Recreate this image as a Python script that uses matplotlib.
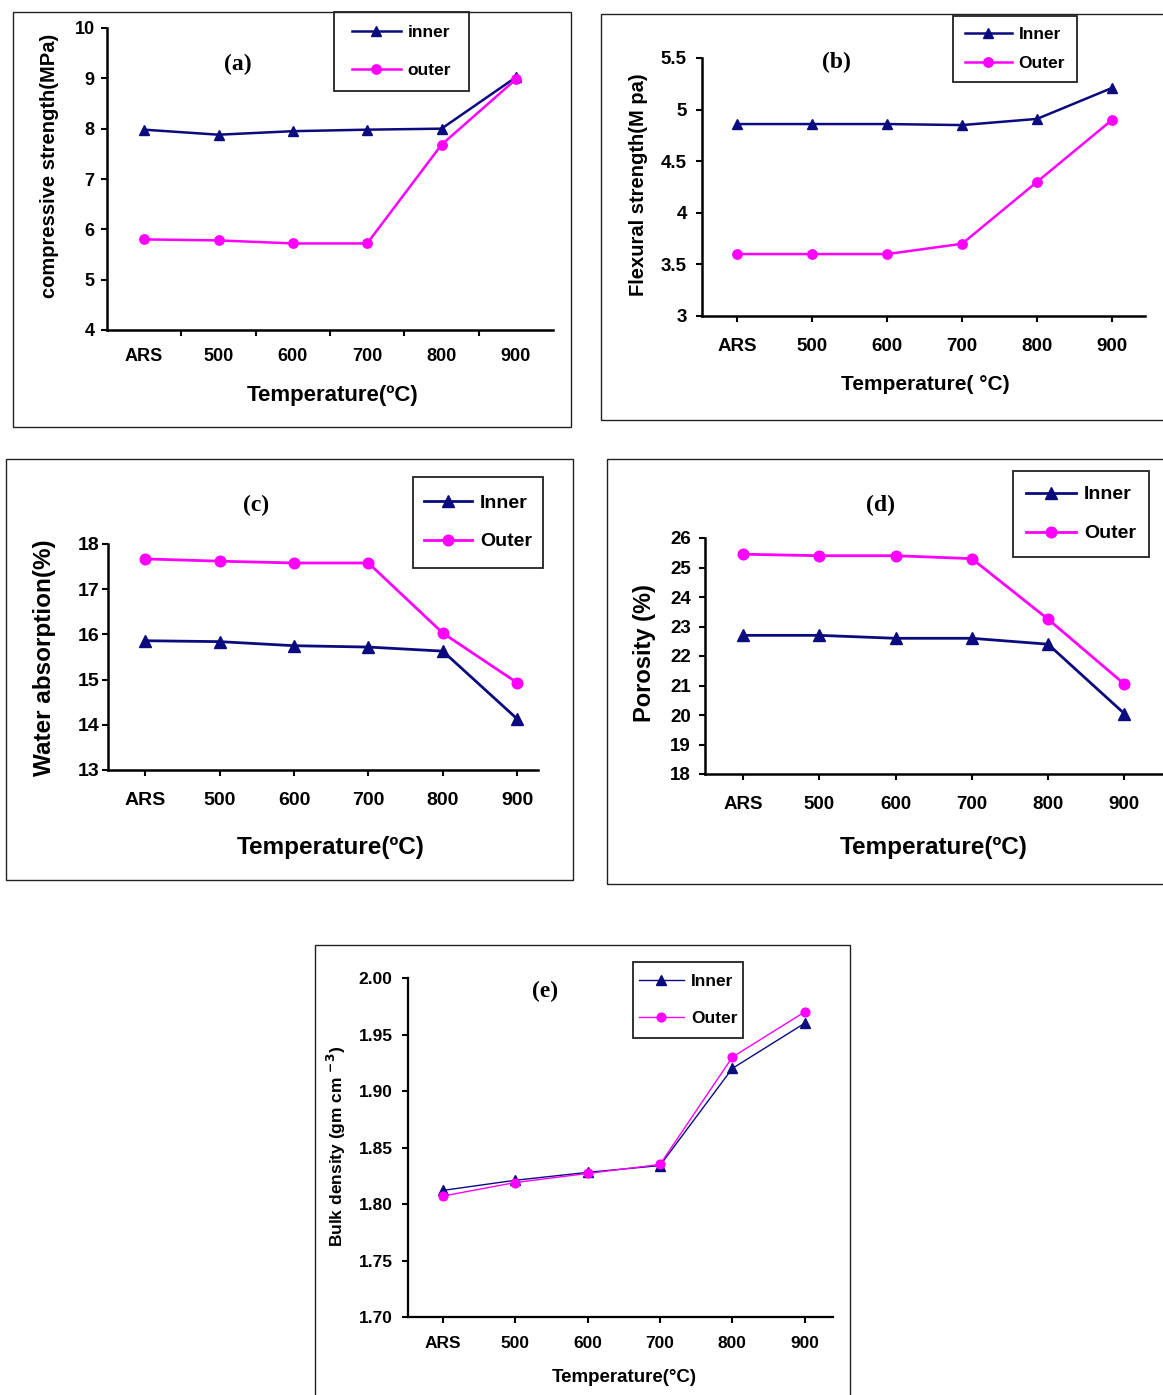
import numpy as np
import matplotlib.pyplot as plt
from matplotlib.patches import Rectangle

plt.rcParams['font.family'] = ['Liberation Sans', 'DejaVu Sans']
plt.rcParams['font.weight'] = 'bold'
plt.rcParams['mathtext.default'] = 'bf'

W, H = 1163, 1395

temps = ['ARS', '500', '600', '700', '800', '900']

# (a) compressive strength, MPa
comp_inner = [7.98, 7.88, 7.95, 7.98, 8.00, 9.02]
comp_outer = [5.80, 5.78, 5.72, 5.72, 7.68, 8.98]
# (b) flexural strength, MPa
flex_inner = [4.86, 4.86, 4.86, 4.85, 4.91, 5.21]
flex_outer = [3.60, 3.60, 3.60, 3.70, 4.30, 4.90]
# (c) water absorption, %
water_inner = [15.86, 15.84, 15.75, 15.72, 15.63, 14.13]
water_outer = [17.67, 17.62, 17.58, 17.58, 16.03, 14.93]
# (d) porosity, %
poro_inner = [22.70, 22.70, 22.60, 22.60, 22.40, 20.05]
poro_outer = [25.45, 25.40, 25.40, 25.30, 23.25, 21.05]
# (e) bulk density, g/cm3
dens_inner = [1.812, 1.821, 1.828, 1.834, 1.920, 1.960]
dens_outer = [1.807, 1.819, 1.827, 1.835, 1.930, 1.970]

NAVY = '#0b0b7d'
PINK = '#ff00ff'

fig = plt.figure(figsize=(W / 100, H / 100), dpi=100)


def fx(x):
    return x / W


def fy(y):
    return 1 - y / H


def box(l, t, r, b, lw=1.0):
    fig.add_artist(Rectangle((fx(l), fy(b)), fx(r - l), (b - t) / H,
                             transform=fig.transFigure, fill=False,
                             edgecolor='#222222', lw=lw, zorder=0))


def panel(l, t, r, b, xlim, ylim, yticks, ylabels, inner, outer, lw, ms,
          tick_fs, xpad, ypad, between=False, spine_lw=1.8):
    ax = fig.add_axes([fx(l), fy(b), fx(r - l), (b - t) / H])
    x = np.arange(len(temps))
    p1, = ax.plot(x, inner, color=NAVY, lw=lw, marker='^', ms=ms, clip_on=False)
    p2, = ax.plot(x, outer, color=PINK, lw=lw, marker='o', ms=ms * 0.9, clip_on=False)
    ax.set_xlim(*xlim)
    ax.set_ylim(*ylim)
    ax.set_yticks(yticks)
    ax.set_yticklabels(ylabels)
    ax.set_xticks(x)
    ax.set_xticklabels(temps)
    for s in ['top', 'right']:
        ax.spines[s].set_visible(False)
    for s in ['left', 'bottom']:
        ax.spines[s].set_linewidth(spine_lw)
    ax.tick_params(axis='y', direction='out', length=4, width=1.5,
                   labelsize=tick_fs, pad=ypad)
    if between:
        ax.tick_params(axis='x', which='major', length=0,
                       labelsize=tick_fs, pad=xpad)
        ax.set_xticks(np.arange(0.5, 5, 1), minor=True)
        ax.tick_params(axis='x', which='minor', direction='out', length=4, width=1.5)
    else:
        ax.tick_params(axis='x', direction='out', length=4, width=1.5,
                       labelsize=tick_fs, pad=xpad)
    ax.set_facecolor('none')
    return ax, p1, p2


def legend(ax, handles, labels, l, t, r, b, fs, hl, ls):
    box(l, t, r, b, lw=1.3)
    ax.legend(handles, labels, loc='center',
              bbox_to_anchor=(fx((l + r) / 2), fy((t + b) / 2)),
              bbox_transform=fig.transFigure, frameon=False,
              fontsize=fs, handlelength=hl, labelspacing=ls,
              handletextpad=0.4, borderpad=0, borderaxespad=0)


# ---------------- (a) ----------------
box(13, 12, 571, 427)
ax, p1, p2 = panel(107, 28, 553, 330, (-0.5, 5.5), (4, 10), range(4, 11),
                   [str(v) for v in range(4, 11)], comp_inner, comp_outer,
                   1.8, 7.5, 13, 13, 5, between=True)
legend(ax, [p1, p2], ['inner', 'outer'], 334, 12, 469, 91, 12.5, 2.8, 1.3)
fig.text(fx(50), fy(166), 'compressive strength(MPa)', rotation=90,
         ha='center', va='center', fontsize=14.5)
fig.text(fx(333), fy(395), 'Temperature(ºC)', ha='center', va='center', fontsize=16)
fig.text(fx(238), fy(64), '(a)', ha='center', va='center', fontsize=17,
         family='Liberation Serif', weight='bold')

# ---------------- (b) ----------------
box(601, 14, 1175, 420)
ax, p1, p2 = panel(702, 58, 1145, 316, (-0.47, 5.44), (3, 5.5),
                   np.arange(3, 5.51, 0.5), ['3', '3.5', '4', '4.5', '5', '5.5'],
                   flex_inner, flex_outer, 1.8, 7.5, 13.5, 11.5, 7)
legend(ax, [p1, p2], ['Inner', 'Outer'], 953, 16, 1077, 82, 12.5, 2.7, 0.8)
fig.text(fx(638), fy(185), 'Flexural strength(M pa)', rotation=90,
         ha='center', va='center', fontsize=14.5)
fig.text(fx(925), fy(384), 'Temperature( °C)', ha='center', va='center', fontsize=15)
fig.text(fx(836), fy(62), '(b)', ha='center', va='center', fontsize=17,
         family='Liberation Serif', weight='bold')

# ---------------- (c) ----------------
box(6, 459, 573, 880)
ax, p1, p2 = panel(108, 544, 538, 770, (-0.5, 5.28), (13, 18), range(13, 19),
                   [str(v) for v in range(13, 19)], water_inner, water_outer,
                   2.0, 8.5, 14, 12, 2)
legend(ax, [p1, p2], ['Inner', 'Outer'], 413, 477, 543, 568, 14, 2.5, 1.05)
fig.text(fx(45), fy(658), 'Water absorption(%)', rotation=90,
         ha='center', va='center', fontsize=17.5)
fig.text(fx(331), fy(847), 'Temperature(ºC)', ha='center', va='center', fontsize=17.5)
fig.text(fx(256), fy(505), '(c)', ha='center', va='center', fontsize=17,
         family='Liberation Serif', weight='bold')

# ---------------- (d) ----------------
box(607, 459, 1175, 884)
ax, p1, p2 = panel(705, 538, 1170, 774, (-0.5, 5.6), (18, 26), range(18, 27),
                   [str(v) for v in range(18, 27)], poro_inner, poro_outer,
                   2.0, 8.5, 13.5, 11.5, 6)
legend(ax, [p1, p2], ['Inner', 'Outer'], 1013, 471, 1149, 557, 14, 2.6, 1.1)
fig.text(fx(645), fy(653), 'Porosity (%)', rotation=90,
         ha='center', va='center', fontsize=17)
fig.text(fx(934), fy(847), 'Temperature(ºC)', ha='center', va='center', fontsize=17.5)
fig.text(fx(881), fy(505), '(d)', ha='center', va='center', fontsize=17,
         family='Liberation Serif', weight='bold')

# ---------------- (e) ----------------
box(315, 945, 850, 1410)
ax, p1, p2 = panel(408, 978, 833, 1317, (-0.48, 5.39), (1.70, 2.00),
                   np.arange(1.70, 2.001, 0.05),
                   ['%.2f' % v for v in np.arange(1.70, 2.001, 0.05)],
                   dens_inner, dens_outer, 1.0, 7, 12.5, 10, 7, spine_lw=1.6)
legend(ax, [p1, p2], ['Inner', 'Outer'], 633, 962, 743, 1038, 12.5, 2.6, 1.3)
fig.text(fx(336), fy(1146), 'Bulk density (gm cm $^{-3}$)', rotation=90,
         ha='center', va='center', fontsize=12.5)
fig.text(fx(624), fy(1378), 'Temperature(°C)', ha='center', va='center', fontsize=13.5)
fig.text(fx(545), fy(991), '(e)', ha='center', va='center', fontsize=17,
         family='Liberation Serif', weight='bold')

fig.savefig('out.png', dpi=100)
